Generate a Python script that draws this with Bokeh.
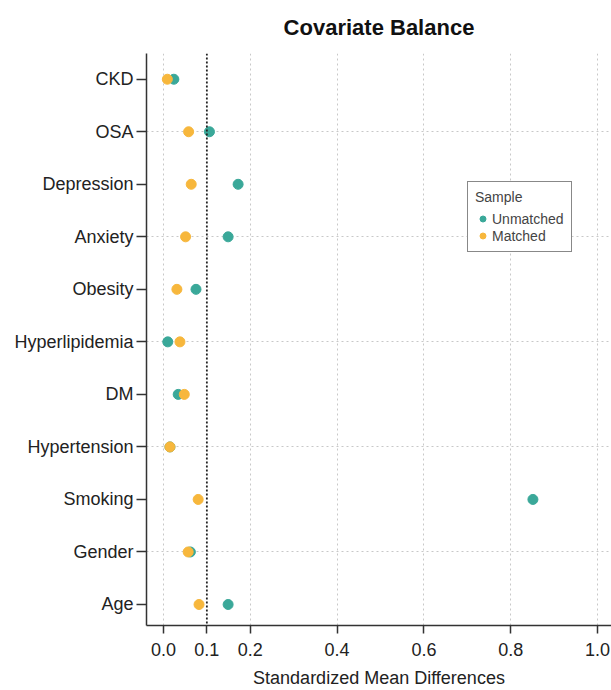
from bokeh.plotting import figure
from bokeh.models import (Range1d, FixedTicker, Span, Legend, LegendItem,
                          ColumnDataSource, PrintfTickFormatter)
from bokeh.embed import file_html
from bokeh.resources import INLINE

categories = ["Age", "Gender", "Smoking", "Hypertension", "DM", "Hyperlipidemia",
              "Obesity", "Anxiety", "Depression", "OSA", "CKD"]
unmatched = [0.149, 0.062, 0.851, 0.015, 0.034, 0.010, 0.075, 0.149, 0.172, 0.106, 0.024]
matched = [0.082, 0.057, 0.080, 0.015, 0.048, 0.038, 0.031, 0.051, 0.064, 0.058, 0.009]
x_ticks = [0.0, 0.1, 0.2, 0.4, 0.6, 0.8, 1.0]
x_grid = [0.0, 0.2, 0.4, 0.6, 0.8, 1.0]
threshold = 0.1

TEAL = "#3AA899"
ORANGE = "#F7B73C"
FONT = "Liberation Sans"

ypos = list(range(len(categories)))
src = ColumnDataSource(dict(y=ypos, unmatched=unmatched, matched=matched))

p = figure(width=611, height=690, output_backend="svg", toolbar_location=None,
           x_range=Range1d(-0.039, 1.032), y_range=Range1d(-0.40, 10.49),
           min_border_left=146, min_border_right=0, min_border_top=53, min_border_bottom=65)
p.outline_line_color = None
p.background_fill_color = "white"
p.border_fill_color = "white"

p.title.text = "Covariate Balance"
p.title.text_font = FONT
p.title.text_font_size = "22px"
p.title.text_font_style = "bold"
p.title.align = "center"
p.title.text_color = "#111111"
p.title.vertical_align = "top"
p.title.standoff = 23

# grids
p.xgrid.ticker = FixedTicker(ticks=x_grid)
p.ygrid.ticker = FixedTicker(ticks=[i for i in ypos if i % 2 == 1])
for g in (p.xgrid, p.ygrid):
    g.grid_line_color = "#c8c8c8"
    g.grid_line_dash = "2 3"
    g.grid_line_width = 1

# axes
xa = p.xaxis[0]
xa.ticker = FixedTicker(ticks=x_ticks)
xa.formatter = PrintfTickFormatter(format="%.1f")
xa.axis_label = "Standardized Mean Differences"
xa.axis_label_text_font = FONT
xa.axis_label_text_font_size = "18px"
xa.axis_label_text_font_style = "normal"
xa.axis_label_text_color = "#222222"
xa.axis_label_standoff = 9
ya = p.yaxis[0]
ya.ticker = FixedTicker(ticks=ypos)
ya.major_label_overrides = {i: c for i, c in zip(ypos, categories)}
for ax in (xa, ya):
    ax.major_label_text_font = FONT
    ax.major_label_text_font_size = "18px"
    ax.major_label_text_color = "#222222"
    ax.axis_line_color = "#333333"
    ax.axis_line_width = 1.5
    ax.major_tick_line_color = "#333333"
    ax.major_tick_line_width = 1.5
    ax.major_tick_in = 0
    ax.minor_tick_line_color = None
xa.major_tick_out = 8
ya.major_tick_out = 10
xa.major_label_standoff = 9
ya.major_label_standoff = 3

p.add_layout(Span(location=threshold, dimension="height", line_color="#222222",
                  line_dash="2 2", line_width=1.8))

r1 = p.scatter("unmatched", "y", source=src, size=10, fill_color=TEAL, line_color=TEAL)
r2 = p.scatter("matched", "y", source=src, size=10, fill_color=ORANGE, line_color=ORANGE)

legend = Legend(items=[LegendItem(label="Unmatched", renderers=[r1]),
                       LegendItem(label="Matched", renderers=[r2])],
                location=(321, 373), title="Sample")
legend.title_text_font = FONT
legend.title_text_font_size = "14px"
legend.title_text_font_style = "normal"
legend.label_text_font = FONT
legend.label_text_font_size = "14px"
legend.border_line_color = "#111111"
legend.border_line_width = 1.2
legend.glyph_width = 15
legend.glyph_height = 17
legend.label_height = 17
legend.spacing = 0
legend.padding = 7
legend.margin = 0
legend.label_standoff = 2
legend.title_standoff = 5
legend.background_fill_alpha = 1
p.add_layout(legend, "center")

open("out.html", "w").write(file_html(p, INLINE))
